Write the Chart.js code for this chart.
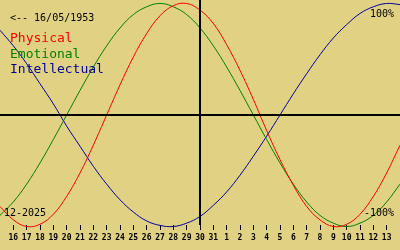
<!DOCTYPE html>
<html>
<head>
<meta charset="utf-8">
<script src="https://cdn.jsdelivr.net/npm/chart.js@4/dist/chart.umd.min.js"></script>
<style>
html,body{margin:0;padding:0;background:#e0d282;}
#wrap{width:400px;height:250px;position:relative;}
</style>
</head>
<body>
<div id="wrap"><canvas id="c" width="400" height="250"></canvas></div>
<script>
// Day positions (index 0 = day 16); -1 and 29 are the off-label edge days
const dayIndex = [-1,0,1,2,3,4,5,6,7,8,9,10,11,12,13,14,15,16,17,18,19,20,21,22,23,24,25,26,27,28,29];
const tickLabels = ["16","17","18","19","20","21","22","23","24","25","26","27","28","29","30","31","1","2","3","4","5","6","7","8","9","10","11","12","13"];
const physical = [-82,-94,-100,-98,-89,-73,-52,-27,0,27,52,73,89,98,100,94,82,63,40,14,-14,-40,-63,-82,-94,-100,-98,-89,-73,-52,-27];
const emotional = [-90,-78,-62,-43,-22,0,22,43,62,78,90,97,100,97,90,78,62,43,22,0,-22,-43,-62,-78,-90,-97,-100,-97,-90,-78,-62];
const intellectual = [76,62,46,28,10,-10,-28,-46,-62,-76,-87,-95,-99,-100,-97,-91,-81,-69,-54,-37,-19,0,19,37,54,69,81,91,97,100,99];
const seriesNames = ["Physical","Emotional","Intellectual"];
const seriesColors = ["#ff0000","#008000","#0000a0"];
const birthLabel = "<-- 16/05/1953";
const monthLabel = "12-2025";
const topLabel = "100%";
const bottomLabel = "-100%";
const todayIndex = 14;

function pts(arr){ return arr.map((v,i)=>({x:dayIndex[i], y:v})); }

const overlay = {
  id:'overlay',
  beforeDraw(chart){
    const ctx = chart.ctx;
    ctx.save();
    ctx.fillStyle = '#e0d282';
    ctx.fillRect(0,0,chart.width,chart.height);
    ctx.restore();
  },
  afterDatasetsDraw(chart){
    const ctx = chart.ctx, xs = chart.scales.x, ys = chart.scales.y;
    ctx.save();
    ctx.strokeStyle = '#000';
    ctx.lineWidth = 2;
    const vx = Math.round(xs.getPixelForValue(todayIndex));
    const hy = Math.round(ys.getPixelForValue(0));
    ctx.beginPath();
    ctx.moveTo(vx, 0); ctx.lineTo(vx, chart.chartArea.bottom);
    ctx.moveTo(0, hy); ctx.lineTo(chart.width, hy);
    ctx.stroke();
    ctx.textBaseline = 'alphabetic';
    ctx.textAlign = 'left';
    ctx.fillStyle = '#000';
    ctx.font = '10px "DejaVu Sans Mono"';
    ctx.fillText(birthLabel, 10, 21);
    ctx.fillText(topLabel, 370, 17);
    ctx.fillText(bottomLabel, 364, 216);
    ctx.fillText(monthLabel, 4, 216);
    ctx.font = '13px "DejaVu Sans Mono"';
    const ys2 = [42, 58, 73];
    seriesNames.forEach((n,i)=>{ ctx.fillStyle = seriesColors[i]; ctx.fillText(n, 10, ys2[i]); });
    ctx.restore();
  }
};

new Chart(document.getElementById('c'), {
  type:'line',
  data:{
    datasets:[
      {label:seriesNames[0], data:pts(physical), borderColor:seriesColors[0], borderWidth:1, pointRadius:0, tension:0.4, clip:false},
      {label:seriesNames[1], data:pts(emotional), borderColor:seriesColors[1], borderWidth:1, pointRadius:0, tension:0.4, clip:false},
      {label:seriesNames[2], data:pts(intellectual), borderColor:seriesColors[2], borderWidth:1, pointRadius:0, tension:0.4, clip:false}
    ]
  },
  options:{
    responsive:false,
    animation:false,
    devicePixelRatio:1,
    layout:{padding:0},
    plugins:{legend:{display:false}, tooltip:{enabled:false}},
    scales:{
      x:{
        type:'linear', min:-1, max:29,
        afterBuildTicks:(s)=>{ s.ticks = tickLabels.map((t,i)=>({value:i})); },
        afterFit:(s)=>{ s.height = 25; },
        border:{display:false},
        grid:{drawOnChartArea:false, drawTicks:true, tickLength:5, color:'#000', lineWidth:1},
        ticks:{autoSkip:false, maxRotation:0, padding:3, color:'#000', font:{family:'"DejaVu Sans Mono"', size:8, weight:'bold'},
               callback:(v,i)=>tickLabels[i]}
      },
      y:{display:false, min:-98.65, max:103.1}
    }
  },
  plugins:[overlay]
});
</script>
</body>
</html>
